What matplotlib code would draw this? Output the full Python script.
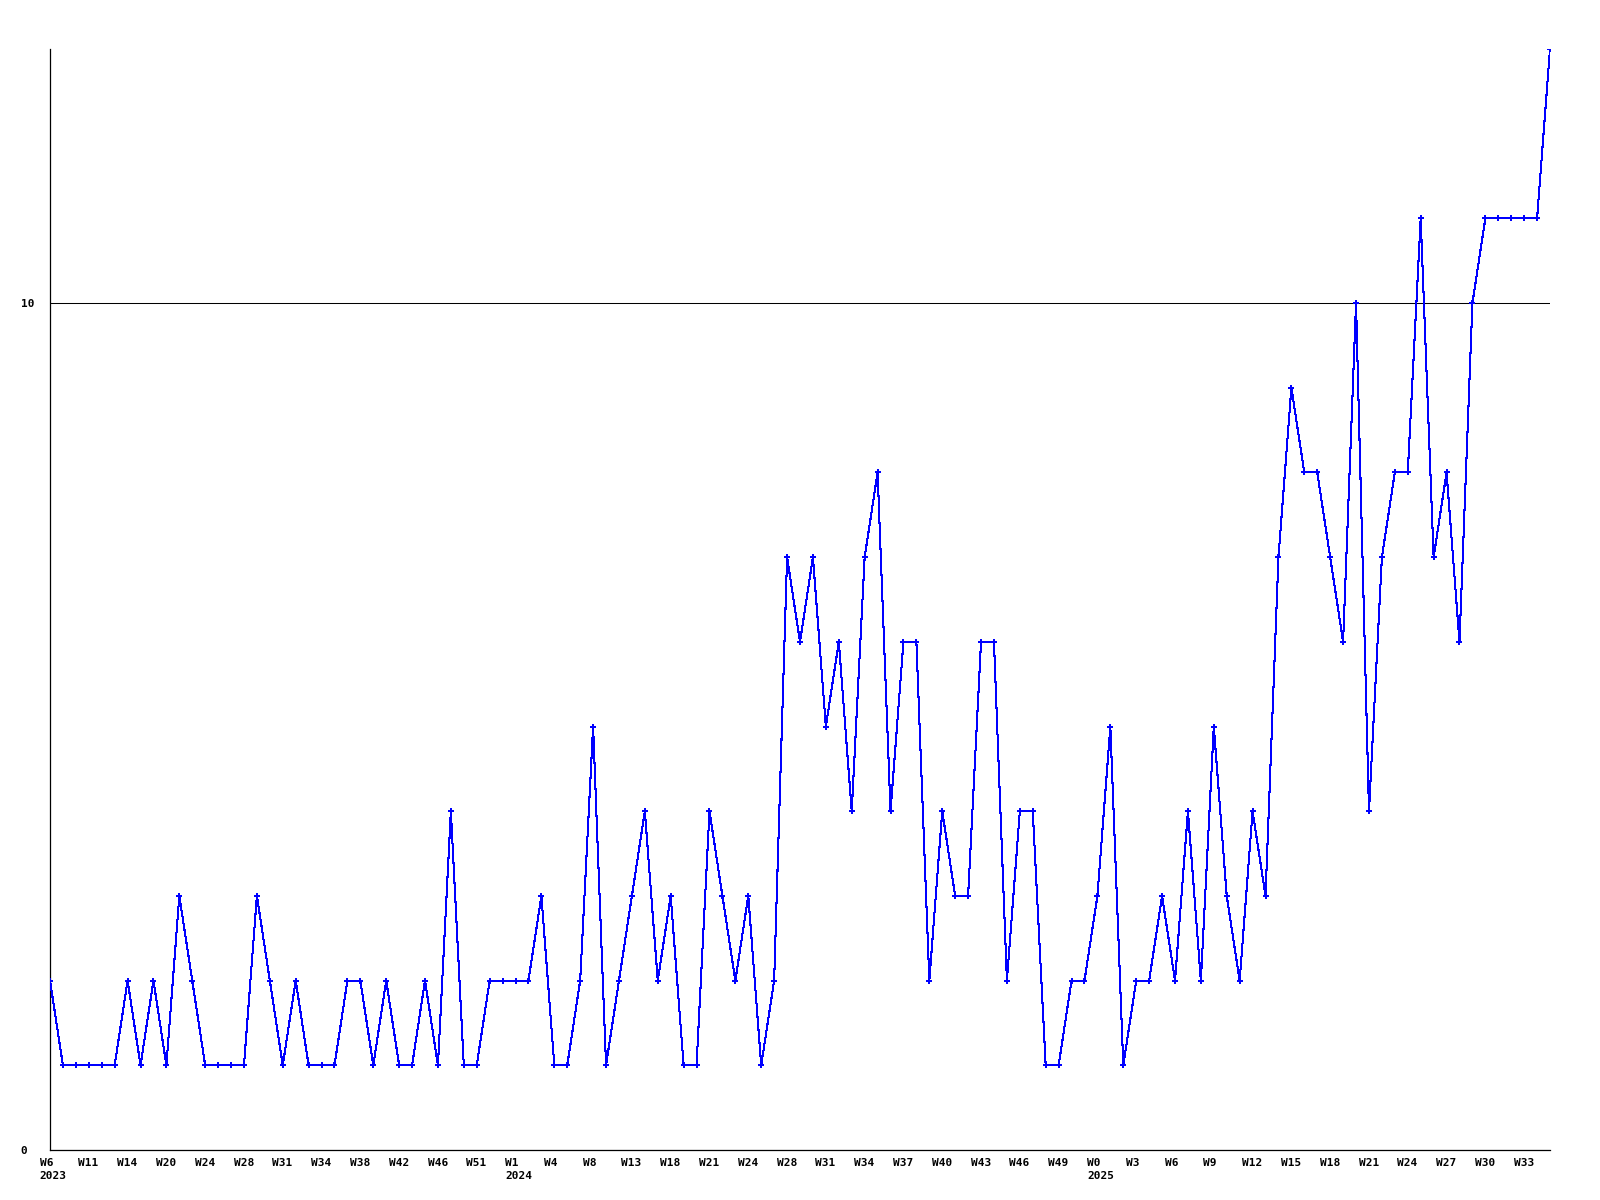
import matplotlib
matplotlib.use("Agg")
import matplotlib.pyplot as plt

# weekly counts, one per point
values = [
    2, 1, 1, 1, 1, 1, 2, 1, 2, 1, 3, 2, 1, 1, 1, 1, 3, 2, 1, 2,
    1, 1, 1, 2, 2, 1, 2, 1, 1, 2, 1, 4, 1, 1, 2, 2, 2, 2, 3, 1,
    1, 2, 5, 1, 2, 3, 4, 2, 3, 1, 1, 4, 3, 2, 3, 1, 2, 7, 6, 7,
    5, 6, 4, 7, 8, 4, 6, 6, 2, 4, 3, 3, 6, 6, 2, 4, 4, 1, 1, 2,
    2, 3, 5, 1, 2, 2, 3, 2, 4, 2, 5, 3, 2, 4, 3, 7, 9, 8, 8, 7,
    6, 10, 4, 7, 8, 8, 11, 7, 8, 6, 10, 11, 11, 11, 11, 11, 13,
]

# one label every third point
week_labels = [
    "W6", "W11", "W14", "W20", "W24", "W28", "W31", "W34", "W38", "W42", "W46", "W51",
    "W1", "W4", "W8", "W13", "W18", "W21", "W24", "W28", "W31", "W34", "W37", "W40",
    "W43", "W46", "W49",
    "W0", "W3", "W6", "W9", "W12", "W15", "W18", "W21", "W24", "W27", "W30", "W33",
]
year_starts = {0: "2023", 12: "2024", 27: "2025"}

y_ticks = [0, 10]
y_max = 13

font = dict(family="DejaVu Sans Mono", weight="bold", size=8)

fig = plt.figure(figsize=(16, 12), dpi=100)
ax = fig.add_axes([50 / 1600, 1 - 1150 / 1200, 1500 / 1600, 1101 / 1200])

x = list(range(len(values)))
ax.plot(x, values, color="#0000ff", linewidth=0.75, marker="P", markersize=4.5,
        markeredgewidth=0, antialiased=False, zorder=3)

ax.set_xlim(0, len(values) - 1)
ax.set_ylim(0, y_max)

# x labels drawn as text, left-aligned a little before each tick
ax.set_xticks([])
for i, w in enumerate(week_labels):
    txt = w + ("\n" + year_starts[i] if i in year_starts else "")
    ax.annotate(txt, xy=(3 * i, 0), xycoords=("data", "axes fraction"),
                xytext=(-7.5, -6), textcoords="offset points",
                ha="left", va="top", multialignment="left", linespacing=1.35,
                annotation_clip=False, **font)

ax.set_yticks(y_ticks)
ax.set_yticklabels([str(v) for v in y_ticks], ha="left", **font)
ax.tick_params(axis="y", length=0, pad=21)

ax.yaxis.grid(True, color="black", linewidth=0.75)
ax.set_axisbelow(True)

for side in ("top", "right"):
    ax.spines[side].set_visible(False)
for side in ("left", "bottom"):
    ax.spines[side].set_color("black")
    ax.spines[side].set_linewidth(0.9)

fig.savefig("out.png", dpi=100)
